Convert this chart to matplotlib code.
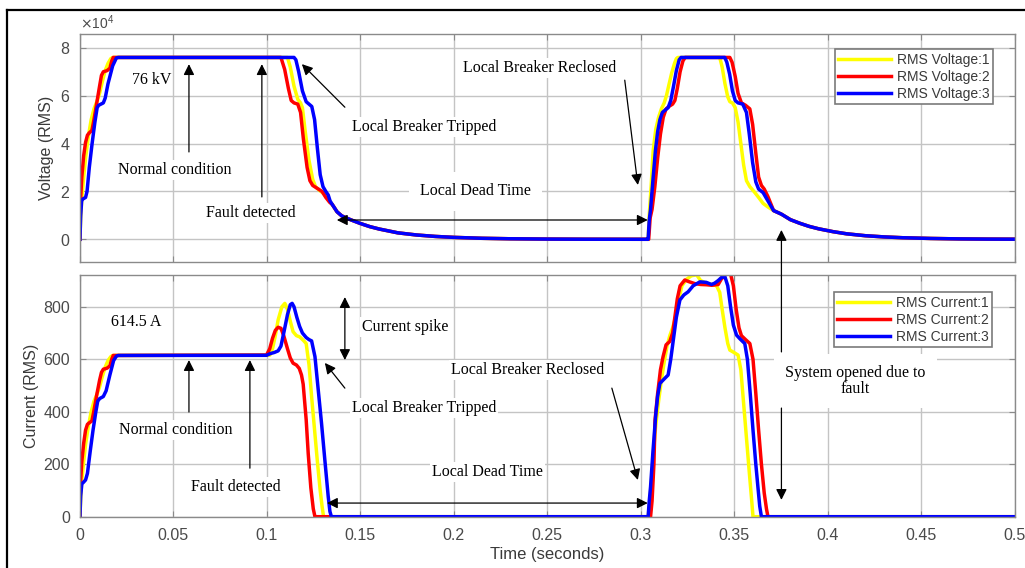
import numpy as np
import matplotlib
matplotlib.use('Agg')
import matplotlib.pyplot as plt
from matplotlib.lines import Line2D
from matplotlib.ticker import ScalarFormatter

# ---------------- RMS voltage, three phases (V) ----------------
# energising ramp
v1_rise_t = [0, 0.0004, 0.001, 0.002, 0.003, 0.0045, 0.006, 0.0075, 0.009, 0.0105, 0.012, 0.0135, 0.015, 0.0165, 0.0175]
v1_rise = [0, 9000, 17000, 26000, 34000, 43000, 50000, 54500, 57500, 61000, 66000, 70500, 73500, 75500, 76000]
v2_rise_t = [0, 0.0003, 0.001, 0.002, 0.003, 0.004, 0.005, 0.0064, 0.0075, 0.009, 0.0105, 0.0115, 0.0125, 0.0145, 0.016, 0.017, 0.0178]
v2_rise = [0, 16000, 26000, 35000, 40500, 43500, 44500, 45500, 50000, 57000, 64000, 68500, 70000, 70500, 71500, 74500, 76000]
v3_rise_t = [0, 0.0004, 0.0009, 0.0015, 0.003, 0.0038, 0.005, 0.0065, 0.008, 0.0092, 0.010, 0.0125, 0.0135, 0.015, 0.0175, 0.0195, 0.0205]
v3_rise = [0, 10000, 16000, 16800, 17500, 20000, 30000, 40000, 49000, 55000, 56000, 57000, 59000, 65000, 72500, 75800, 76000]

# breaker trip
v1_trip_t = [0.111, 0.1125, 0.1145, 0.1165, 0.118, 0.119, 0.1205, 0.1225, 0.1245, 0.126, 0.128, 0.1305, 0.133, 0.135]
v1_trip = [76000, 72000, 64000, 58500, 57000, 55000, 45000, 33000, 25000, 22000, 20500, 19000, 16500, 14500]
v2_trip_t = [0.1075, 0.1095, 0.1115, 0.113, 0.1145, 0.1165, 0.118, 0.1195, 0.1215, 0.123, 0.1245, 0.1275, 0.1295, 0.1315, 0.1335, 0.135]
v2_trip = [76000, 71000, 63000, 58000, 57000, 56500, 53000, 42000, 30000, 24500, 22500, 21000, 20000, 17500, 15500, 14500]
v3_trip_t = [0.1145, 0.1155, 0.117, 0.119, 0.121, 0.1225, 0.124, 0.1255, 0.127, 0.1285, 0.130, 0.1315, 0.1328, 0.1338, 0.135]
v3_trip = [76000, 75000, 70000, 62000, 57500, 56500, 55500, 50000, 38000, 27000, 22000, 20000, 18500, 16000, 14500]

# line discharge during the dead time (all phases)
decay1_t = [0.1375, 0.14, 0.1425, 0.145, 0.15, 0.155, 0.16, 0.17, 0.18, 0.19, 0.20, 0.215, 0.23, 0.25, 0.27, 0.29, 0.3035]
decay1 = [11500, 9800, 8900, 8100, 6600, 5300, 4300, 2700, 1800, 1200, 800, 420, 220, 90, 30, 8, 0]

# reclose onto the fault
v1_rc_t = [0.3039, 0.3045, 0.3055, 0.3066, 0.308, 0.3095, 0.311, 0.3125, 0.3137, 0.315, 0.3165, 0.318, 0.319, 0.3198,
           0.3422, 0.3435, 0.345, 0.3465, 0.3476, 0.349, 0.3505, 0.352, 0.3535, 0.355, 0.3565, 0.3583, 0.3605, 0.363, 0.3654, 0.368, 0.371]
v1_rc = [0, 10000, 22000, 37000, 46000, 51000, 54500, 57000, 60000, 64500, 69500, 73500, 75500, 76000,
         76000, 72000, 65000, 59500, 57500, 57000, 55000, 49000, 40000, 31000, 24500, 22000, 20000, 17500, 15000, 13500, 12000]
v2_rc_t = [0.3042, 0.305, 0.306, 0.3075, 0.309, 0.3105, 0.312, 0.3135, 0.315, 0.317, 0.3182, 0.3195, 0.321, 0.3225, 0.3237,
           0.3476, 0.3488, 0.3505, 0.352, 0.3538, 0.356, 0.3583, 0.3598, 0.3615, 0.363, 0.3645, 0.366, 0.368, 0.371]
v2_rc = [0, 9000, 12500, 22000, 34000, 44000, 51000, 54500, 55500, 56500, 58000, 63000, 70000, 74500, 76000,
         76000, 74000, 68000, 61000, 57000, 56000, 54500, 48000, 36000, 26000, 22500, 21000, 17800, 12000]
v3_rc_t = [0.3039, 0.3045, 0.3052, 0.3065, 0.3078, 0.309, 0.3102, 0.3115, 0.313, 0.3146, 0.316, 0.3175, 0.319, 0.3205, 0.3215,
           0.3449, 0.346, 0.3475, 0.349, 0.3505, 0.352, 0.3545, 0.3565, 0.358, 0.3598, 0.3615, 0.363, 0.3654, 0.368, 0.371]
v3_rc = [0, 8000, 12500, 25000, 37000, 45000, 50000, 53000, 54000, 55000, 58000, 64000, 70500, 75000, 76000,
         76000, 74000, 69000, 62000, 58000, 57000, 56500, 53000, 44000, 32000, 24000, 21000, 19500, 16000, 12000]

# discharge after the second opening
decay2_t = [0.3752, 0.38, 0.385, 0.39, 0.395, 0.4027, 0.41, 0.42, 0.43, 0.44, 0.455, 0.47, 0.485, 0.5]
decay2 = [10500, 8200, 6700, 5400, 4400, 3200, 2300, 1500, 1000, 650, 350, 170, 80, 40]

# ---------------- RMS current, three phases (A) ----------------
i1_rise_t = [0, 0.0004, 0.001, 0.002, 0.003, 0.0045, 0.006, 0.0075, 0.009, 0.0105, 0.012, 0.0135, 0.015, 0.0165, 0.0175]
i1_rise = [0, 70, 140, 210, 275, 345, 400, 440, 465, 495, 535, 570, 595, 610, 614.5]
i2_rise_t = [0, 0.0003, 0.001, 0.002, 0.003, 0.004, 0.005, 0.0064, 0.0075, 0.009, 0.0105, 0.0115, 0.0125, 0.0145, 0.016, 0.017, 0.0178]
i2_rise = [0, 130, 210, 280, 330, 352, 358, 365, 405, 465, 520, 550, 562, 566, 575, 600, 614.5]
i3_rise_t = [0, 0.0004, 0.001, 0.002, 0.003, 0.004, 0.0055, 0.007, 0.0085, 0.0095, 0.0105, 0.0125, 0.014, 0.016, 0.018, 0.0195, 0.0205]
i3_rise = [0, 80, 125, 132, 140, 165, 250, 330, 400, 440, 450, 458, 480, 540, 595, 612, 614.5]

# fault spike and trip
i1_trip_t = [0.1016, 0.103, 0.1045, 0.106, 0.108, 0.1096, 0.111, 0.1125, 0.114, 0.1158, 0.1176, 0.1195, 0.121, 0.1225,
             0.124, 0.1255, 0.127, 0.1285, 0.1295, 0.1303]
i1_trip = [616, 640, 690, 750, 800, 813, 790, 745, 705, 690, 685, 672, 660, 580, 450, 330, 210, 100, 40, 0]
i2_trip_t = [0.0998, 0.1015, 0.103, 0.1045, 0.106, 0.1075, 0.109, 0.111, 0.1125, 0.114, 0.1158, 0.1173, 0.1185, 0.1194,
             0.121, 0.1221, 0.1235, 0.1248, 0.1257]
i2_trip = [616, 640, 680, 710, 722, 718, 690, 640, 605, 585, 578, 565, 540, 505, 370, 240, 110, 30, 0]
i3_trip_t = [0.0998, 0.102, 0.104, 0.106, 0.1075, 0.109, 0.111, 0.1125, 0.1135, 0.1145, 0.116, 0.1175, 0.119, 0.121,
             0.1225, 0.1239, 0.1257, 0.1275, 0.1292, 0.131, 0.1328, 0.1337, 0.1345]
i3_trip = [615, 622, 626, 632, 650, 700, 770, 808, 813, 800, 760, 725, 700, 683, 675, 670, 610, 480, 357, 215, 76, 20, 0]

# reclose and final trip
i1_rc_t = [0.3039, 0.3045, 0.3055, 0.3068, 0.308, 0.3095, 0.311, 0.3125, 0.314, 0.3155, 0.317, 0.3182, 0.320, 0.322, 0.3245,
           0.327, 0.3298, 0.332, 0.335, 0.338, 0.3405, 0.3422, 0.3435, 0.345, 0.3465, 0.3476, 0.350, 0.352, 0.3535, 0.355,
           0.3565, 0.358, 0.3592, 0.360]
i1_rc = [0, 40, 120, 250, 350, 440, 520, 590, 650, 690, 720, 750, 820, 880, 905,
         918, 922, 900, 890, 885, 880, 855, 790, 720, 660, 635, 625, 616, 560, 430,
         300, 170, 70, 0]
i2_rc_t = [0.3052, 0.306, 0.307, 0.3076, 0.309, 0.3105, 0.3119, 0.3135, 0.3155, 0.317, 0.3182, 0.3195, 0.321, 0.3235, 0.326,
           0.329, 0.332, 0.335, 0.338, 0.3414, 0.343, 0.3455, 0.348, 0.3495, 0.351, 0.3525, 0.3538, 0.356, 0.3583, 0.360,
           0.3615, 0.363, 0.3645, 0.366, 0.3672, 0.368]
i2_rc = [0, 60, 200, 368, 470, 560, 610, 655, 668, 700, 760, 830, 880, 902, 895,
         888, 885, 884, 882, 885, 905, 925, 925, 880, 790, 720, 690, 675, 660, 600,
         470, 330, 200, 90, 30, 0]
i3_rc_t = [0.3039, 0.3045, 0.3052, 0.3065, 0.308, 0.309, 0.3102, 0.3125, 0.3146, 0.316, 0.3175, 0.319, 0.3209, 0.323, 0.3253,
           0.328, 0.3316, 0.335, 0.3378, 0.3395, 0.3414, 0.3432, 0.345, 0.3465, 0.348, 0.3495, 0.3512, 0.353, 0.3556, 0.357,
           0.3585, 0.360, 0.3615, 0.3628, 0.3636, 0.3645]
i3_rc = [0, 60, 114, 250, 390, 460, 508, 525, 540, 600, 680, 760, 826, 845, 857,
         880, 895, 893, 885, 890, 900, 912, 914, 880, 800, 730, 692, 678, 660, 600,
         470, 330, 200, 100, 40, 0]
i_end_t = [0.5]
i_end = [0]

# tick labels and legend text
x_ticks = [0, 0.05, 0.1, 0.15, 0.2, 0.25, 0.3, 0.35, 0.4, 0.45, 0.5]
x_ticklabels = ['0', '0.05', '0.1', '0.15', '0.2', '0.25', '0.3', '0.35', '0.4', '0.45', '0.5']
v_ticks = [0, 20000, 40000, 60000, 80000]
i_ticks = [0, 200, 400, 600, 800]
v_names = ['RMS Voltage:1', 'RMS Voltage:2', 'RMS Voltage:3']
i_names = ['RMS Current:1', 'RMS Current:2', 'RMS Current:3']
phase_colors = ['#ffff00', '#ff0000', '#0000ff']

# join the segments of each phase
v_t = [np.concatenate([a, b, decay1_t, c, decay2_t]) for a, b, c in
       [(v1_rise_t, v1_trip_t, v1_rc_t), (v2_rise_t, v2_trip_t, v2_rc_t), (v3_rise_t, v3_trip_t, v3_rc_t)]]
v_y = [np.concatenate([a, b, decay1, c, decay2]) for a, b, c in
       [(v1_rise, v1_trip, v1_rc), (v2_rise, v2_trip, v2_rc), (v3_rise, v3_trip, v3_rc)]]
i_t = [np.concatenate([a, b, c, i_end_t]) for a, b, c in
       [(i1_rise_t, i1_trip_t, i1_rc_t), (i2_rise_t, i2_trip_t, i2_rc_t), (i3_rise_t, i3_trip_t, i3_rc_t)]]
i_y = [np.concatenate([a, b, c, i_end]) for a, b, c in
       [(i1_rise, i1_trip, i1_rc), (i2_rise, i2_trip, i2_rc), (i3_rise, i3_trip, i3_rc)]]

plt.rcParams['font.family'] = 'Liberation Sans'
tick_col = '#4a4a4a'
serif = 'Liberation Serif'

fig = plt.figure(figsize=(10.25, 5.68), dpi=100)
ax1 = fig.add_axes([0.078, 0.5387, 0.912, 0.4023])
ax2 = fig.add_axes([0.078, 0.0903, 0.912, 0.4255])

for ax in (ax1, ax2):
    ax.set_xlim(0, 0.5)
    ax.set_xticks(x_ticks)
    ax.grid(True, color='#c4c4c4', lw=1.0)
    ax.set_axisbelow(True)
    ax.tick_params(direction='in', top=True, right=True, colors='#8a8a8a', labelcolor=tick_col,
                   labelsize=11.5, length=4)
    ax.tick_params(axis='y', pad=7)
    ax.tick_params(axis='x', pad=8)
    for s in ax.spines.values():
        s.set_color('#8a8a8a')
        s.set_linewidth(1.0)

for k in range(3):
    ax1.plot(v_t[k], v_y[k], color=phase_colors[k], lw=2.5, label=v_names[k])
    ax2.plot(i_t[k], i_y[k], color=phase_colors[k], lw=2.5, label=i_names[k])

ax1.set_ylim(-9500, 86000)
ax1.set_yticks(v_ticks)
fmt = ScalarFormatter(useMathText=True)
fmt.set_powerlimits((0, 0))
ax1.yaxis.set_major_formatter(fmt)
ax1.yaxis.get_offset_text().set_color(tick_col)
ax1.yaxis.get_offset_text().set_fontsize(10)
ax1.set_xticklabels([])
ax1.set_ylabel('Voltage (RMS)', fontsize=11.5, color='#3a3a3a', labelpad=4)

ax2.set_ylim(0, 921)
ax2.set_yticks(i_ticks)
ax2.set_xticklabels(x_ticklabels)
ax2.set_ylabel('Current (RMS)', fontsize=11.5, color='#3a3a3a', labelpad=3)
ax2.set_xlabel('Time (seconds)', fontsize=12, color='#3a3a3a', labelpad=3)

leg_kw = dict(loc='upper right', fancybox=False, edgecolor='#7a7a7a', fontsize=10, handlelength=3.8,
              handletextpad=0.4, borderpad=0.25, labelspacing=0.22, framealpha=1)
l1 = ax1.legend(bbox_to_anchor=(0.984, 0.962), **leg_kw)
l2 = ax2.legend(bbox_to_anchor=(0.983, 0.958), **leg_kw)
for leg in (l1, l2):
    leg.get_frame().set_linewidth(1.2)
    for t in leg.get_texts():
        t.set_color('#3a3a3a')

box = dict(fc='white', ec='none', pad=1.5)
arr = dict(arrowstyle='-|>', color='k', lw=0.9, mutation_scale=16, shrinkA=0, shrinkB=0)
arr2 = dict(arrowstyle='<|-|>', color='k', lw=0.9, mutation_scale=16, shrinkA=0, shrinkB=0)
tk = dict(fontsize=11.5, family=serif, color='k')

# voltage panel notes
ax1.text(0.0382, 66500, '76 kV', ha='center', va='center', **tk)
ax1.annotate('', xy=(0.0583, 73200), xytext=(0.0583, 36500), arrowprops=arr)
ax1.text(0.0508, 28900, 'Normal condition', ha='center', va='center', bbox=box, **tk)
ax1.annotate('', xy=(0.0973, 73200), xytext=(0.0973, 17700), arrowprops=arr)
ax1.text(0.0914, 11000, 'Fault detected', ha='center', va='center', bbox=box, **tk)
ax1.annotate('', xy=(0.1187, 73200), xytext=(0.1417, 55200), arrowprops=arr)
ax1.text(0.1455, 46900, 'Local Breaker Tripped', ha='left', va='center', bbox=box, **tk)
ax1.annotate('', xy=(0.1374, 8060), xytext=(0.3037, 8060), arrowprops=arr2)
ax1.text(0.2117, 20000, 'Local Dead Time', ha='center', va='center', bbox=dict(fc='white', ec='none', pad=8), **tk)
ax1.text(0.246, 71500, 'Local Breaker Reclosed', ha='center', va='center', bbox=box, **tk)
ax1.annotate('', xy=(0.2984, 22700), xytext=(0.2914, 66500), arrowprops=arr)

# current panel notes
ax2.text(0.0299, 742, '614.5 A', ha='center', va='center', **tk)
ax2.annotate('', xy=(0.0583, 597), xytext=(0.0583, 399), arrowprops=arr)
ax2.text(0.0513, 330, 'Normal condition', ha='center', va='center', bbox=box, **tk)
ax2.annotate('', xy=(0.0909, 597), xytext=(0.0909, 185), arrowprops=arr)
ax2.text(0.0834, 113, 'Fault detected', ha='center', va='center', bbox=box, **tk)
ax2.annotate('', xy=(0.1417, 837), xytext=(0.1417, 597), arrowprops=arr2)
ax2.text(0.1508, 723, 'Current spike', ha='left', va='center', bbox=box, **tk)
ax2.annotate('', xy=(0.131, 586), xytext=(0.1417, 490), arrowprops=arr)
ax2.text(0.1455, 414, 'Local Breaker Tripped', ha='left', va='center', bbox=box, **tk)
ax2.annotate('', xy=(0.1321, 52), xytext=(0.3037, 52), arrowprops=arr2)
ax2.text(0.2182, 170, 'Local Dead Time', ha='center', va='center', bbox=box, **tk)
ax2.text(0.2396, 559, 'Local Breaker Reclosed', ha='center', va='center', bbox=box, **tk)
ax2.annotate('', xy=(0.2984, 140), xytext=(0.2845, 490), arrowprops=arr)

# second opening, spans both panels
ax2.annotate('', xy=(0.3752, 3900), xycoords=ax1.transData, xytext=(0.3752, 628), textcoords='data',
             arrowprops=arr, annotation_clip=False)
ax2.text(0.4148, 517, 'System opened due to\nfault', ha='center', va='center', linespacing=1.0,
         bbox=dict(fc='white', ec='none', pad=8), **tk)
ax2.annotate('', xy=(0.3752, 64), xytext=(0.3752, 414), arrowprops=arr)

# outer frame
x0 = 7 / 1025
y0 = 1 - 10 / 568
fig.add_artist(Line2D([x0, x0], [0, y0], transform=fig.transFigure, color='k', lw=1.6))
fig.add_artist(Line2D([x0, 1], [y0, y0], transform=fig.transFigure, color='k', lw=1.6))

fig.savefig('out.png', dpi=100)
